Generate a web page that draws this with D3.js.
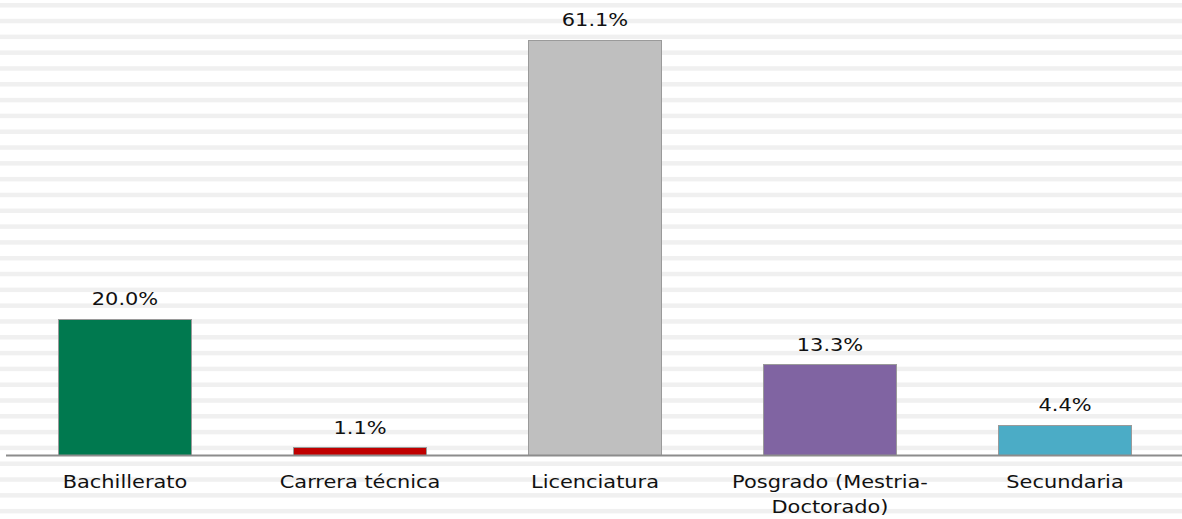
<!DOCTYPE html>
<html>
<head>
<meta charset="utf-8">
<script src="https://cdn.jsdelivr.net/npm/d3@7"></script>
<style>
  html, body { margin: 0; padding: 0; background: #fff; }
  svg { display: block; }
  text { font-family: "DejaVu Sans", sans-serif; fill: #111; }
</style>
</head>
<body>
<div id="chart"></div>
<script>
const categories = ["Bachillerato", "Carrera técnica", "Licenciatura", "Posgrado (Mestria-Doctorado)", "Secundaria"];
const categoryLines = [["Bachillerato"], ["Carrera técnica"], ["Licenciatura"], ["Posgrado (Mestria-", "Doctorado)"], ["Secundaria"]];
const values = [20.0, 1.1, 61.1, 13.3, 4.4];
const valueLabels = ["20.0%", "1.1%", "61.1%", "13.3%", "4.4%"];
const colors = ["#00794f", "#c00000", "#bfbfbf", "#8064a2", "#4bacc6"];

const W = 1182, H = 519;
const svg = d3.select("#chart").append("svg").attr("width", W).attr("height", H);

// striped background
const stripeStart = 3, stripePeriod = 15.81, stripeCount = 33;
svg.append("g").selectAll("rect").data(d3.range(stripeCount)).join("rect")
  .attr("x", 0).attr("width", W)
  .attr("y", i => stripeStart + i * stripePeriod)
  .attr("height", 4.5)
  .attr("fill", "#f0f0f0");

const x = d3.scaleBand().domain(categories).range([7.5, 1182.5]).paddingInner(0.43).paddingOuter(0.215);
const y = d3.scaleLinear().domain([0, 61.1]).range([455, 40]);

const data = categories.map((c, i) => ({ c, v: values[i], label: valueLabels[i], color: colors[i], lines: categoryLines[i] }));

svg.append("g").selectAll("rect").data(data).join("rect")
  .attr("x", d => x(d.c))
  .attr("width", x.bandwidth())
  .attr("y", d => y(d.v))
  .attr("height", d => y(0) - y(d.v))
  .attr("fill", d => d.color)
  .attr("stroke", "#9a9a9a")
  .attr("stroke-width", 1)
  .attr("shape-rendering", "crispEdges");

// axis baseline
const axis = d3.axisBottom(x).tickSize(0).tickFormat("");
const ax = svg.append("g").attr("transform", `translate(0,${y(0)})`).call(axis);
ax.select(".domain").attr("d", `M6,0.5H${W}`).attr("stroke", "#8c8c8c").attr("stroke-width", 2);

const sx = 1.23;
// value labels
svg.append("g").selectAll("text").data(data).join("text")
  .attr("transform", d => `translate(${x(d.c) + x.bandwidth() / 2},${y(d.v) - 14}) scale(${sx},1)`)
  .attr("text-anchor", "middle")
  .attr("font-size", 17)
  .text(d => d.label);

// category labels
const cat = svg.append("g").selectAll("text").data(data).join("text")
  .attr("transform", d => `translate(${x(d.c) + x.bandwidth() / 2},488) scale(${sx},1)`)
  .attr("text-anchor", "middle")
  .attr("font-size", 17);
cat.selectAll("tspan").data(d => d.lines).join("tspan")
  .attr("x", 0)
  .attr("y", (l, i) => i * 25.5)
  .text(l => l);
</script>
</body>
</html>
